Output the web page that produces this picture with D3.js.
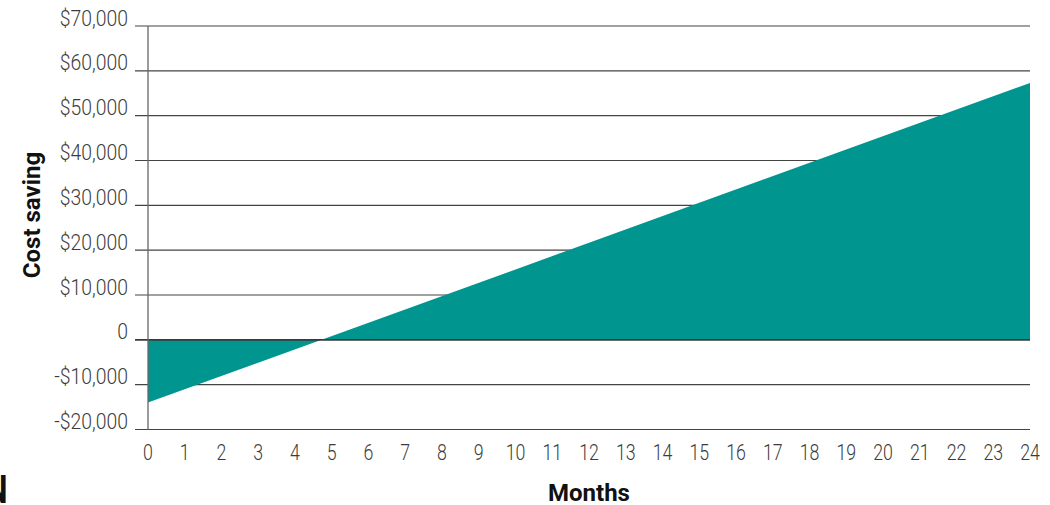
<!DOCTYPE html>
<html>
<head>
<meta charset="utf-8">
<script src="https://cdn.jsdelivr.net/npm/d3@7"></script>
<style>
  html, body { margin: 0; padding: 0; background: #fff; }
  svg { display: block; }
  .tick-label { font-family: "Roboto", "Liberation Sans", sans-serif; font-weight: 300; fill: #3c3c3c; }
  .title { font-family: "Roboto", "Liberation Sans", sans-serif; font-weight: bold; fill: #111; }
</style>
</head>
<body>
<script>
// Cumulative cost saving over the payback period
const months = [0, 24];
const savings = [-14000, 57300];

// Axis ticks
const yTicks = [-20000, -10000, 0, 10000, 20000, 30000, 40000, 50000, 60000, 70000];
const yTickLabels = ["-$20,000", "-$10,000", "0", "$10,000", "$20,000", "$30,000", "$40,000", "$50,000", "$60,000", "$70,000"];
const xTicks = d3.range(0, 25);

const width = 1050, height = 505;
const margin = { top: 26, right: 20, bottom: 75.5, left: 148 };

const svg = d3.select("body").append("svg")
  .attr("width", width)
  .attr("height", height);

const x = d3.scaleLinear().domain([0, 24]).range([margin.left, width - margin.right]);
const y = d3.scaleLinear().domain([-20000, 70000]).range([height - margin.bottom, margin.top]);

const points = months.map((m, i) => ({ m, v: savings[i] }));

// Horizontal gridlines, extended left as tick marks
svg.append("g")
  .selectAll("line")
  .data(yTicks.filter(t => t !== 0))
  .join("line")
  .attr("x1", margin.left - 13)
  .attr("x2", width - margin.right)
  .attr("y1", d => y(d))
  .attr("y2", d => y(d))
  .attr("stroke", "#444")
  .attr("stroke-width", 1.2);

// Area between the savings line and zero
const area = d3.area()
  .x(d => x(d.m))
  .y0(y(0))
  .y1(d => y(d.v));

svg.append("path")
  .datum(points)
  .attr("d", area)
  .attr("fill", "#00958f");

// Zero line drawn over the area
svg.append("line")
  .attr("x1", margin.left - 13)
  .attr("x2", width - margin.right)
  .attr("y1", y(0))
  .attr("y2", y(0))
  .attr("stroke", "#3a3a3a")
  .attr("stroke-width", 1.6);

// Vertical axis line
svg.append("line")
  .attr("x1", x(0))
  .attr("x2", x(0))
  .attr("y1", y(70000))
  .attr("y2", y(-20000))
  .attr("stroke", "#666")
  .attr("stroke-width", 1.3);

// Y tick labels
svg.append("g")
  .selectAll("text")
  .data(yTicks)
  .join("text")
  .attr("class", "tick-label")
  .attr("transform", d => `translate(${margin.left - 20}, ${y(d) - 0.5}) scale(0.88, 1)`)
  .attr("text-anchor", "end")
  .attr("font-size", 22)
  .text((d, i) => yTickLabels[i]);

// X tick labels
svg.append("g")
  .selectAll("text")
  .data(xTicks)
  .join("text")
  .attr("class", "tick-label")
  .attr("transform", d => `translate(${x(d)}, 460) scale(0.79, 1)`)
  .attr("text-anchor", "middle")
  .attr("font-size", 22.5)
  .text(d => d);

// Axis titles
svg.append("text")
  .attr("class", "title")
  .attr("transform", `translate(${(x(0) + x(24)) / 2}, 501)`)
  .attr("text-anchor", "middle")
  .attr("font-size", 24)
  .text("Months");

svg.append("text")
  .attr("class", "title")
  .attr("transform", "translate(39.5, 215) rotate(-90)")
  .attr("text-anchor", "middle")
  .attr("font-size", 24)
  .text("Cost saving");

// Partial letter at the page edge
svg.append("text")
  .attr("class", "title")
  .attr("transform", "translate(-14.5, 503) scale(0.8, 1)")
  .attr("font-size", 39)
  .text("N");
</script>
</body>
</html>
